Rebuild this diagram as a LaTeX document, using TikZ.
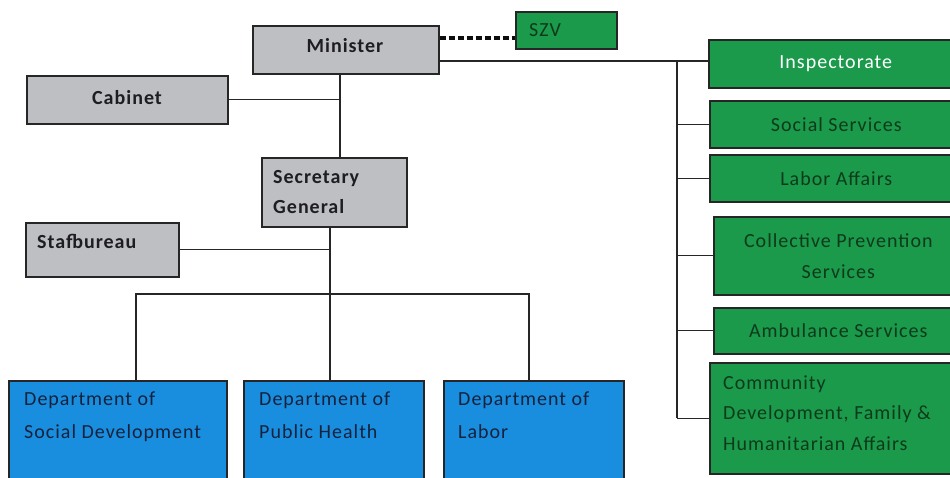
\documentclass[tikz,border=0pt]{standalone}
\usepackage{fontspec}
\setmainfont{Carlito}[LetterSpace=5]
\definecolor{boxgray}{HTML}{BDBFC3}
\definecolor{boxgreen}{HTML}{1A9A4A}
\definecolor{boxblue}{HTML}{1A8EDE}
\definecolor{txtgray}{HTML}{1E1E22}
\definecolor{txtgreen}{HTML}{0E3A1C}
\definecolor{txtblue}{HTML}{14223E}
\tikzset{
  box/.style={draw=black!85, line width=1.6pt, rectangle, inner sep=0pt, anchor=north west,
    font=\fontsize{20}{31}\selectfont},
  graybox/.style={box, fill=boxgray, text=txtgray, font=\bfseries\fontsize{20}{30}\selectfont},
  greenbox/.style={box, fill=boxgreen, text=txtgreen},
  bluebox/.style={box, fill=boxblue, text=txtblue},
  graytext/.style={anchor=north west, inner sep=0pt, align=left, text=txtgray, font=\bfseries\fontsize{20}{30}\selectfont},
  greentext/.style={anchor=north west, inner sep=0pt, align=left, text=txtgreen, font=\fontsize{20}{30.5}\selectfont},
  bluetext/.style={anchor=north west, inner sep=0pt, align=left, text=txtblue, font=\fontsize{20}{33}\selectfont},
  conn/.style={draw=black!85, line width=1.3pt},
  dconn/.style={draw=black!95, line width=3.2pt, dash pattern=on 6pt off 3pt},
}
\begin{document}
\begin{tikzpicture}[x=1pt,y=-1pt]
\useasboundingbox (0,0) rectangle (950,478);
% gray boxes
\node[graybox, minimum width=186pt, minimum height=48pt] (min) at (252,25) {};
\node[graytext, anchor=center] (mint) at (345,46) {Minister};
\node[graybox, minimum width=201pt, minimum height=48pt] (cab) at (26,75) {};
\node[graytext, anchor=center] (cabt) at (127,98) {Cabinet};
\node[graybox, minimum width=145pt, minimum height=69pt] (sg) at (261,157) {};
\node[graytext] (sgt) at (273,170) {Secretary\\General};
\node[graybox, minimum width=153pt, minimum height=54pt] (staf) at (25,222) {};
\node[graytext] (staft) at (37,234.5) {Stafbureau};
% SZV
\node[greenbox, minimum width=101pt, minimum height=37pt] (szv) at (515,11) {};
\node[greentext, anchor=west] (szvt) at (529,30) {SZV};
% green column
\node[greenbox, minimum width=254pt, minimum height=48pt, text=white] (insp) at (708,39) {Inspectorate};
\node[greenbox, minimum width=253pt, minimum height=47pt] (soc) at (709,100) {Social Services};
\node[greenbox, minimum width=253pt, minimum height=47pt] (lab) at (709,154) {Labor Affairs};
\node[greenbox, minimum width=249pt, minimum height=78pt, align=center] (col) at (713,216) {Collective Prevention\\Services};
\node[greenbox, minimum width=249pt, minimum height=46pt] (amb) at (713,307) {Ambulance Services};
\node[greenbox, minimum width=253pt, minimum height=111pt] (com) at (709,362) {};
\node[greentext] (comt) at (723,375.5) {Community\\Development, Family \&\\Humanitarian Affairs};
% blue departments
\node[bluebox, minimum width=218pt, minimum height=110pt] (dsd) at (8,380) {};
\node[bluebox, minimum width=180pt, minimum height=110pt] (dph) at (243,380) {};
\node[bluebox, minimum width=180pt, minimum height=110pt] (dlb) at (443,380) {};
\node[bluetext] (dsdt) at (24,392) {Department of\\Social Development};
\node[bluetext] (dpht) at (259,392) {Department of\\Public Health};
\node[bluetext] (dlbt) at (458,392) {Department of\\Labor};
% helper coordinates
\coordinate (mx) at (340,0);
\coordinate (sx) at (330,0);
\coordinate (bus) at (677,0);
\coordinate (b1) at (136,294);
\coordinate (b3) at (529,294);
\coordinate (dz) at (0,38);
\coordinate (mz) at (0,61);
% connectors
\draw[dconn] (min.east |- dz) -- (szv.west |- dz);
\draw[conn] (min.east |- mz) -- (insp.west |- mz);
\draw[conn] (bus |- mz) -- (bus |- com.west);
\foreach \b in {soc,lab,col,amb,com}{
  \draw[conn] (bus |- \b.west) -- (\b.west);
}
\draw[conn] (min.south -| mx) -- (sg.north -| mx);
\draw[conn] (cab.east) -- (cab.east -| mx);
\draw[conn] (sg.south -| sx) -- (dph.north -| sx);
\draw[conn] (staf.east) -- (staf.east -| sx);
\draw[conn] (dsd.north -| b1) -- (b1) -- (b3) -- (dlb.north -| b3);
\end{tikzpicture}
\end{document}
